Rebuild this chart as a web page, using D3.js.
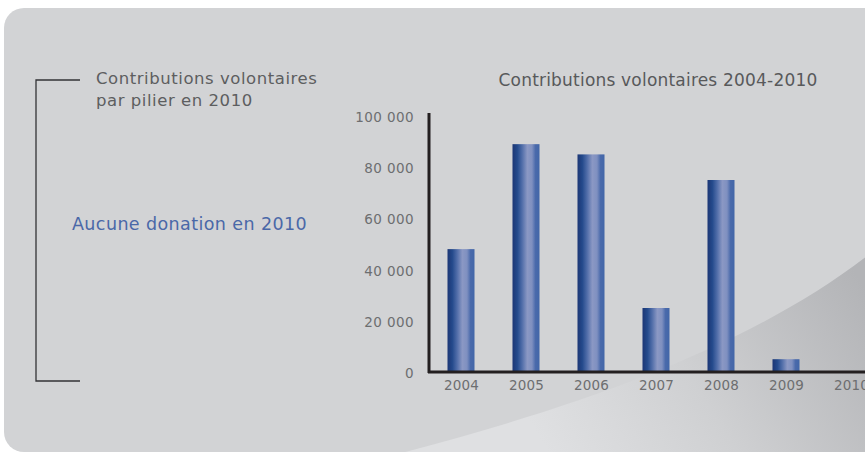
<!DOCTYPE html>
<html><head><meta charset="utf-8">
<script src="https://cdn.jsdelivr.net/npm/d3@7"></script>
<style>html,body{margin:0;padding:0;background:#fff;}svg{display:block;}</style>
</head><body>
<script>
const years = ["2004","2005","2006","2007","2008","2009","2010"];
const values = [48000, 89000, 85000, 25000, 75000, 5000, 0];
const yTicks = [0, 20000, 40000, 60000, 80000, 100000];
const chartTitle = "Contributions volontaires 2004-2010";
const sideTitle = ["Contributions volontaires", "par pilier en 2010"];
const sideNote = "Aucune donation en 2010";

const W = 865, H = 453;
const FONT = "'DejaVu Sans', sans-serif";
const svg = d3.select("body").append("svg").attr("width", W).attr("height", H);
const defs = svg.append("defs");

// background panel
svg.append("rect").attr("x", 4).attr("y", 8).attr("width", 900).attr("height", 444)
  .attr("rx", 20).attr("fill", "#d2d3d5");

// swoosh
const sg = defs.append("linearGradient").attr("id", "swoosh")
  .attr("gradientUnits", "userSpaceOnUse").attr("x1", 860).attr("y1", 280).attr("x2", 560).attr("y2", 470);
sg.append("stop").attr("offset", 0).attr("stop-color", "#b3b4b7");
sg.append("stop").attr("offset", 0.55).attr("stop-color", "#cfd0d2");
sg.append("stop").attr("offset", 1).attr("stop-color", "#dfe0e2");
const clip = defs.append("clipPath").attr("id", "panelClip");
clip.append("rect").attr("x", 4).attr("y", 8).attr("width", 900).attr("height", 444).attr("rx", 20);
svg.append("path")
  .attr("clip-path", "url(#panelClip)")
  .attr("d", "M390,456 C 600,402 760,340 872,252 L 872,460 L 390,460 Z")
  .attr("fill", "url(#swoosh)");

// bar gradient
const bg = defs.append("linearGradient").attr("id", "barGrad").attr("x1", 0).attr("x2", 1).attr("y1", 0).attr("y2", 0);
[[0, "#1c3675"], [0.18, "#244a8c"], [0.35, "#4f6ca8"], [0.55, "#8b98c4"], [0.72, "#7f90c0"], [0.85, "#4a6aab"], [1, "#4266a8"]]
  .forEach(([o, c]) => bg.append("stop").attr("offset", o).attr("stop-color", c));

// scales
const x = d3.scalePoint().domain(years).range([461, 851]);
const y = d3.scaleLinear().domain([0, 100000]).range([372, 116]);
const bw = 27;

// title
svg.append("text").attr("x", 658).attr("y", 86).attr("text-anchor", "middle")
  .attr("font-family", FONT).attr("font-size", 17).attr("letter-spacing", 0.2)
  .attr("fill", "#58595b").text(chartTitle);

// bars
svg.selectAll("rect.bar").data(values).join("rect").attr("class", "bar")
  .attr("x", (d, i) => x(years[i]) - bw / 2)
  .attr("width", bw)
  .attr("y", d => y(d))
  .attr("height", d => y(0) - y(d))
  .attr("fill", "url(#barGrad)");

// y axis
const yAxis = d3.axisLeft(y).tickValues(yTicks).tickSize(0).tickPadding(15)
  .tickFormat(d => d3.format(",")(d).replace(/,/g, "\u00a0"));
const gy = svg.append("g").attr("transform", "translate(429,0)").call(yAxis);
gy.select(".domain").remove();
gy.selectAll("text").attr("font-family", FONT).attr("font-size", 13.5).attr("letter-spacing", 0.4)
  .attr("fill", "#6d6e70").attr("dy", "0.4em");
svg.append("line").attr("x1", 429).attr("x2", 429).attr("y1", 113).attr("y2", 373)
  .attr("stroke", "#231f20").attr("stroke-width", 3);

// x axis
const xAxis = d3.axisBottom(x).tickSize(0).tickPadding(8);
const gx = svg.append("g").attr("transform", "translate(0,372)").call(xAxis);
gx.select(".domain").remove();
gx.selectAll("text").attr("font-family", FONT).attr("font-size", 13.5).attr("letter-spacing", 0.2)
  .attr("fill", "#6d6e70");
svg.append("line").attr("x1", 428).attr("x2", W).attr("y1", 372).attr("y2", 372)
  .attr("stroke", "#231f20").attr("stroke-width", 3);

// left bracket
svg.append("path").attr("d", "M80,80 H36 V381 H80").attr("fill", "none")
  .attr("stroke", "#333336").attr("stroke-width", 1.3);

svg.append("text").attr("font-family", FONT).attr("font-size", 16.5).attr("letter-spacing", 0.55)
  .attr("fill", "#5d5e60")
  .selectAll("tspan").data(sideTitle).join("tspan")
  .attr("x", 96).attr("y", (d, i) => 84 + i * 22).text(d => d);

svg.append("text").attr("x", 72).attr("y", 230).attr("font-family", FONT).attr("font-size", 17.5)
  .attr("letter-spacing", 0.4).attr("fill", "#4a68a8").text(sideNote);
</script>
</body></html>
